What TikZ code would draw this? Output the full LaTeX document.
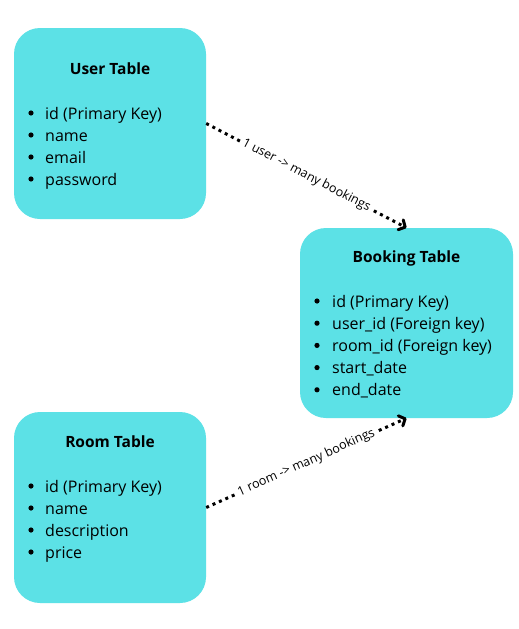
\documentclass[tikz,border=0pt]{standalone}
\usepackage{fontspec}
\setmainfont{Open Sans}
\usetikzlibrary{positioning,arrows.meta}
\definecolor{tablecyan}{HTML}{5CE1E6}

\begin{document}
\begin{tikzpicture}[x=1pt,y=-1pt,
  tablebox/.style={fill=tablecyan, rounded corners=26pt, minimum width=192pt, minimum height=191pt, inner sep=0pt},
  tabletitle/.style={font=\bfseries\fontsize{15.5}{18}\selectfont},
  field/.style={anchor=base west, inner sep=0pt, font=\fontsize{16}{18}\selectfont},
  relline/.style={line width=3pt, dash pattern=on 3pt off 4pt, -{Straight Barb[length=5pt,width=11pt,line width=3pt,round]}},
  rellabel/.style={sloped, fill=white, inner sep=2pt, font=\fontsize{12.5}{14}\selectfont}]
% canvas
\fill[white] (0,0) rectangle (519,629);
\useasboundingbox (0,0) rectangle (519,629);

% tables
\node[tablebox] (user) at (110,123.5) {};
\node[tablebox, minimum width=213pt, minimum height=190pt] (booking) at (406.5,323) {};
\node[tablebox] (room) at (110,507.5) {};

% titles
\node[tabletitle] (usertitle) at (110,69) {User Table};
\node[tabletitle] (bookingtitle) at (406.5,258) {Booking Table};
\node[tabletitle] (roomtitle) at (110,442) {Room Table};

% fields
\foreach \f [count=\i] in {id (Primary Key), name, email, password} {
  \fill (31,113+22*\i-22) circle (2.6pt);
  \node[field] (userf\i) at (45,119+22*\i-22) {\f};
}
\foreach \f [count=\i] in {id (Primary Key), user\_id (Foreign key), room\_id (Foreign key), start\_date, end\_date} {
  \fill (317,301+22.2*\i-22.2) circle (2.6pt);
  \node[field] (bookingf\i) at (332,307+22.2*\i-22.2) {\f};
}
\foreach \f [count=\i] in {id (Primary Key), name, description, price} {
  \fill (31,486+22*\i-22) circle (2.6pt);
  \node[field] (roomf\i) at (45,492+22*\i-22) {\f};
}

% relations
\draw[relline] (user.east) -- node[rellabel] (userlabel) {1 user -> many bookings} (booking.north);
\draw[relline] (room.east) -- node[rellabel] (roomlabel) {1 room -> many bookings} (booking.south);
\end{tikzpicture}
\end{document}
